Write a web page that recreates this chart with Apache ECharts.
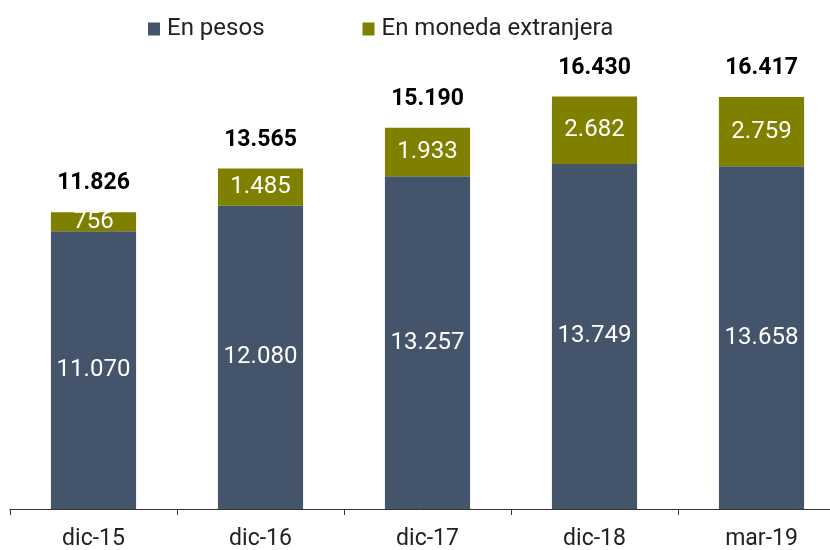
<!DOCTYPE html>
<html>
<head>
<meta charset="utf-8">
<script src="https://cdn.jsdelivr.net/npm/echarts@6/dist/echarts.min.js"></script>
<style>
  html, body { margin: 0; padding: 0; background: #fff; }
  #main { width: 830px; height: 550px; }
</style>
</head>
<body>
<div id="main"></div>
<script>
const categories = ["dic-15", "dic-16", "dic-17", "dic-18", "mar-19"];
const enPesos = [11070, 12080, 13257, 13749, 13658];
const enMonedaExtranjera = [756, 1485, 1933, 2682, 2759];
const totals = [11826, 13565, 15190, 16430, 16417];

const fmt = (v) => v.toLocaleString("es-AR");

const chart = echarts.init(document.getElementById("main"));

const option = {
  animation: false,
  textStyle: { fontFamily: "Roboto" },
  legend: {
    top: 12,
    left: 143,
    itemWidth: 12,
    itemHeight: 13,
    itemGap: 98,
    icon: "rect",
    textStyle: { fontSize: 24, color: "#222", fontFamily: "Roboto", padding: [0, 0, 0, 2] },
    data: ["En pesos", "En moneda extranjera"],
  },
  grid: { left: 10, width: 835, top: 7, bottom: 41, containLabel: false, outerBoundsMode: "none" },
  xAxis: {
    type: "category",
    data: categories,
    axisLine: { lineStyle: { color: "#333", width: 1 } },
    axisTick: { show: true, length: 6, lineStyle: { color: "#333" } },
    axisLabel: { fontSize: 23, color: "#222", margin: 19 },
  },
  yAxis: {
    type: "value",
    min: 0,
    max: 20000,
    show: false,
    splitLine: { show: false },
  },
  series: [
    {
      name: "En pesos",
      type: "bar",
      stack: "total",
      barWidth: "51%",
      data: enPesos,
      itemStyle: { color: "#44546A" },
      label: {
        show: true,
        position: "inside",
        color: "#fff",
        fontSize: 24,
        formatter: (p) => fmt(p.value),
      },
    },
    {
      name: "En moneda extranjera",
      type: "bar",
      stack: "total",
      data: enMonedaExtranjera,
      itemStyle: { color: "#7F7F00" },
      label: {
        show: true,
        position: "inside",
        color: "#fff",
        fontSize: 24,
        formatter: (p) => fmt(p.value),
      },
    },
    {
      name: "Total",
      type: "bar",
      stack: "total",
      data: totals.map(() => 0),
      itemStyle: { color: "transparent" },
      label: {
        show: true,
        position: "top",
        distance: 17,
        color: "#000",
        fontSize: 23,
        fontWeight: "bold",
        formatter: (p) => fmt(totals[p.dataIndex]),
      },
    },
  ],
};

chart.setOption(option);
</script>
</body>
</html>
